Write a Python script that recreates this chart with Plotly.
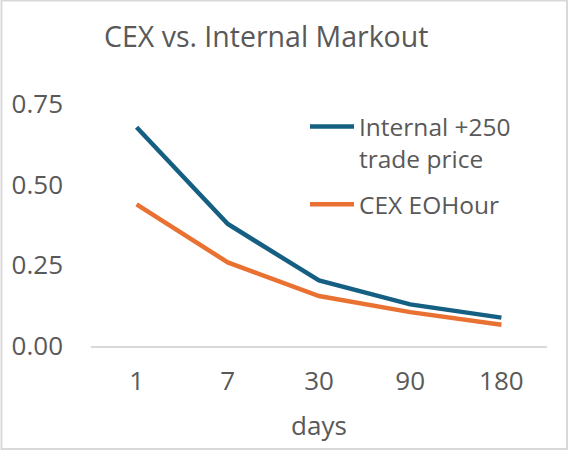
import plotly.graph_objects as go

days = ["1", "7", "30", "90", "180"]
internal_250 = [0.678, 0.378, 0.203, 0.129, 0.088]
cex_eohour = [0.439, 0.259, 0.155, 0.105, 0.066]
series_names = ["Internal +250<br>trade price", "CEX EOHour"]
y_ticks = [0.0, 0.25, 0.5, 0.75]
y_tick_text = ["0.00", "0.25", "0.50", "0.75"]

W, H = 569, 452
L, R, T, B = 91, 22, 104, 106
PW, PH = W - L - R, H - T - B

FONT = "Open Sans"
GREY = "#595959"
LIGHT = "#D9D9D9"

fig = go.Figure()
fig.add_trace(go.Scatter(x=days, y=internal_250, name=series_names[0], mode="lines",
                         line=dict(color="#156082", width=4.5), legendgroup="a"))
fig.add_trace(go.Scatter(x=days, y=cex_eohour, name=series_names[1], mode="lines",
                         line=dict(color="#E97132", width=4.5), legendgroup="b"))

# chart border (Excel chart area)
fig.add_shape(type="rect", xref="paper", yref="paper",
              x0=(1.5 - L) / PW, x1=(W - 2 - L) / PW,
              y0=(H - T - 451) / PH, y1=(H - T - 2.5) / PH,
              line=dict(color=LIGHT, width=2), fillcolor="rgba(0,0,0,0)", layer="below")

fig.update_layout(
    width=W, height=H,
    margin=dict(l=L, r=R, t=T, b=B),
    paper_bgcolor="white", plot_bgcolor="white",
    font=dict(family=FONT, color=GREY, size=26),
    title=dict(text="CEX vs. Internal Markout", xref="container", yref="container",
               x=104 / W, xanchor="left", y=1 - 37 / H, yanchor="middle",
               font=dict(size=28.5, color=GREY, family=FONT)),
    showlegend=True,
    legend=dict(x=(305 - L) / PW, xanchor="left", y=(H - B - 104) / PH, yanchor="top",
                valign="top", bgcolor="rgba(0,0,0,0)", itemwidth=44,
                tracegroupgap=11, font=dict(size=24.5, color=GREY)),
    xaxis=dict(type="category", range=[-0.5, 4.5], showgrid=False, zeroline=False,
               showline=True, linecolor=LIGHT, linewidth=2, ticks="",
               tickfont=dict(size=26, color=GREY), ticklabelstandoff=11,
               title=dict(text="days", font=dict(size=26, color=GREY), standoff=20)),
    yaxis=dict(range=[0, 0.75], tickvals=y_ticks, ticktext=y_tick_text,
               showgrid=False, zeroline=False, showline=False, ticks="",
               tickfont=dict(size=26, color=GREY), ticklabelstandoff=27),
)

fig.write_html("out.html", config={"displayModeBar": False},
               post_script="document.body.style.margin='0';document.body.style.overflow='hidden';")
